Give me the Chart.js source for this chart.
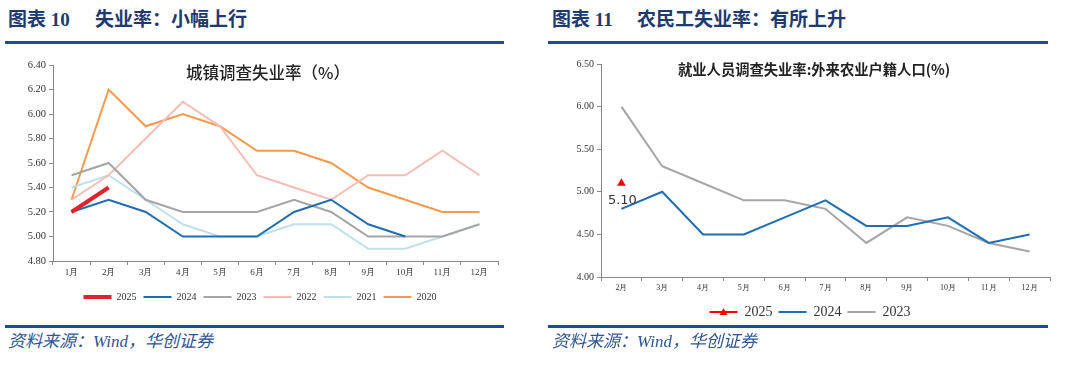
<!DOCTYPE html>
<html>
<head>
<meta charset="utf-8">
<script src="https://cdn.jsdelivr.net/npm/chart.js@4.4.1/dist/chart.umd.min.js"></script>
<style>
body{margin:0;width:1080px;height:374px;background:#fff;position:relative;overflow:hidden;font-family:"Liberation Serif","Noto Sans CJK SC",serif}
.hd{position:absolute;top:9px;font-size:19px;font-weight:bold;color:#1F3A6E;white-space:pre;line-height:22px}
.rule{position:absolute;height:3px;background:#1F4E8C}
.src{position:absolute;top:331px;font-style:italic;font-size:17px;color:#2E5597;line-height:22px}
.ct{position:absolute;color:#222;white-space:nowrap;font-family:"Noto Sans CJK SC",sans-serif;z-index:2}
canvas{position:absolute}
</style>
</head>
<body>
<div class="hd" style="left:8px">图表 10</div>
<div class="hd" style="left:95px">失业率：小幅上行</div>
<div class="rule" style="left:5px;width:499px;top:41px"></div>
<div class="hd" style="left:552px">图表 11</div>
<div class="hd" style="left:637px">农民工失业率：有所上升</div>
<div class="rule" style="left:548px;width:500px;top:41px"></div>

<canvas id="c1" width="540" height="270" style="left:0;top:50px"></canvas>
<canvas id="c2" width="540" height="285" style="left:540px;top:50px"></canvas>

<div class="ct" style="left:186px;top:61px;font-size:16.5px;font-weight:500;line-height:22px">城镇调查失业率（%）</div>
<div class="ct" style="left:678px;top:59px;font-size:14.3px;font-weight:bold;line-height:20px">就业人员调查失业率:外来农业户籍人口(%)</div>

<div class="rule" style="left:5px;width:499px;top:325px;z-index:3"></div>
<div class="rule" style="left:548px;width:500px;top:325px;z-index:3"></div>
<div class="src" style="left:8px">资料来源：Wind，华创证券</div>
<div class="src" style="left:552px">资料来源：Wind，华创证券</div>

<script>
// 城镇调查失业率
const months = ['1月', '2月', '3月', '4月', '5月', '6月', '7月', '8月', '9月', '10月', '11月', '12月'];
const u2025 = [5.2, 5.4, null, null, null, null, null, null, null, null, null, null];
const u2024 = [5.2, 5.3, 5.2, 5.0, 5.0, 5.0, 5.2, 5.3, 5.1, 5.0, null, null];
const u2023 = [5.5, 5.6, 5.3, 5.2, 5.2, 5.2, 5.3, 5.2, 5.0, 5.0, 5.0, 5.1];
const u2022 = [5.3, 5.5, 5.8, 6.1, 5.9, 5.5, 5.4, 5.3, 5.5, 5.5, 5.7, 5.5];
const u2021 = [5.4, 5.5, 5.3, 5.1, 5.0, 5.0, 5.1, 5.1, 4.9, 4.9, 5.0, 5.1];
const u2020 = [5.3, 6.2, 5.9, 6.0, 5.9, 5.7, 5.7, 5.6, 5.4, 5.3, 5.2, 5.2];

// 外来农业户籍人口失业率
const farmMonths = ['2月', '3月', '4月', '5月', '6月', '7月', '8月', '9月', '10月', '11月', '12月'];
const f2025 = [5.1, null, null, null, null, null, null, null, null, null, null];
const f2024 = [4.8, 5.0, 4.5, 4.5, 4.7, 4.9, 4.6, 4.6, 4.7, 4.4, 4.5];
const f2023 = [6.0, 5.3, 5.1, 4.9, 4.9, 4.8, 4.4, 4.7, 4.6, 4.4, 4.3];

const serif = 'Liberation Serif';

function line(label, data, color, width) {
    return {label: label, data: data, borderColor: color, backgroundColor: color,
        borderWidth: width, pointRadius: 0, tension: 0, spanGaps: false};
}

function axes(yMin, yMax, step, yWidth, xHeight, xSize, ySize) {
    return {
        x: {
            offset: true,
            grid: {display: true, drawOnChartArea: false, offset: true, tickLength: 4, color: '#888'},
            border: {color: '#888'},
            ticks: {color: '#333', font: {family: serif, size: xSize}, padding: 2, maxRotation: 0},
            afterFit: s => { s.height = xHeight; }
        },
        y: {
            min: yMin, max: yMax,
            grid: {display: true, drawOnChartArea: false, tickLength: 4, color: '#888'},
            border: {color: '#888'},
            ticks: {stepSize: step, color: '#333', font: {family: serif, size: ySize}, padding: 3,
                callback: v => Number(v).toFixed(2)},
            afterFit: s => { s.width = yWidth; }
        }
    };
}

new Chart(document.getElementById('c1'), {
    type: 'line',
    data: {
        labels: months,
        datasets: [
            line('2025', u2025, '#E3202B', 4),
            line('2024', u2024, '#1F6DB5', 2),
            line('2023', u2023, '#A5A5A5', 2),
            line('2022', u2022, '#F3BDB4', 2),
            line('2021', u2021, '#BFE0EA', 2),
            line('2020', u2020, '#F59A4C', 2)
        ]
    },
    options: {
        responsive: false,
        animation: false,
        layout: {padding: {top: 15, right: 42, left: 22, bottom: 8}},
        scales: axes(4.8, 6.4, 0.2, 31, 24, 9, 10.5),
        plugins: {
            legend: {
                position: 'bottom',
                labels: {usePointStyle: true, pointStyle: 'line', pointStyleWidth: 28, boxHeight: 10,
                    padding: 7, color: '#333', font: {family: serif, size: 10}}
            },
            tooltip: {enabled: false}
        }
    }
});

// 数值标签和图例三角
const markPlugin = {
    id: 'mark',
    afterDatasetsDraw(chart) {
        const ctx = chart.ctx;
        const pt = chart.getDatasetMeta(0).data[0];
        ctx.save();
        ctx.fillStyle = '#333';
        ctx.font = '13px "DejaVu Sans"';
        ctx.textAlign = 'center';
        ctx.textBaseline = 'middle';
        ctx.fillText(f2025[0].toFixed(2), pt.x + 1, pt.y + 17);
        ctx.restore();
    },
    afterDraw(chart) {
        const box = chart.legend.legendHitBoxes[0];
        const ctx = chart.ctx;
        const cx = box.left + 14, cy = box.top + box.height / 2;
        ctx.save();
        ctx.fillStyle = '#FF0000';
        ctx.beginPath();
        ctx.moveTo(cx, cy - 4);
        ctx.lineTo(cx + 4, cy + 3);
        ctx.lineTo(cx - 4, cy + 3);
        ctx.closePath();
        ctx.fill();
        ctx.restore();
    }
};

const farmSet2025 = line('2025', f2025, '#FF0000', 2);
farmSet2025.pointRadius = 3;
farmSet2025.pointStyle = 'triangle';
farmSet2025.showLine = false;

new Chart(document.getElementById('c2'), {
    type: 'line',
    data: {
        labels: farmMonths,
        datasets: [
            farmSet2025,
            line('2024', f2024, '#1F6DB5', 2),
            line('2023', f2023, '#A5A5A5', 2)
        ]
    },
    options: {
        responsive: false,
        animation: false,
        layout: {padding: {top: 14, right: 30, left: 30, bottom: 6}},
        scales: axes(4.0, 6.5, 0.5, 31, 22, 8, 10),
        plugins: {
            legend: {
                position: 'bottom',
                labels: {usePointStyle: true, pointStyle: 'line', pointStyleWidth: 28, boxHeight: 14,
                    padding: 6, color: '#333', font: {family: serif, size: 14}}
            },
            tooltip: {enabled: false}
        }
    },
    plugins: [markPlugin]
});
</script>
</body>
</html>
